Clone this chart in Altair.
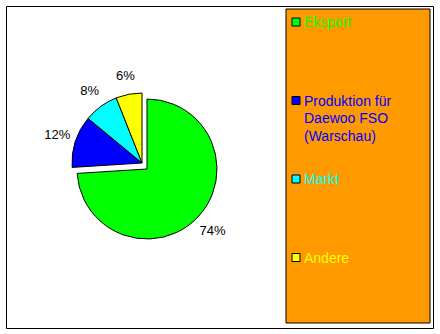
import math
import altair as alt
import pandas as pd

categories = ["Eksport", "Produktion für Daewoo FSO (Warschau)", "Markt", "Andere"]
legend_labels = ["Eksport", "Produktion für\nDaewoo FSO\n(Warschau)", "Markt", "Andere"]
values = [74, 12, 8, 6]
pct_labels = ["74%", "12%", "8%", "6%"]
colors = ["#00FF00", "#0000FF", "#00FFFF", "#FFFF00"]

FONT = "Arial, Liberation Sans, sans-serif"

df = pd.DataFrame({
    "category": categories,
    "label": legend_labels,
    "value": values,
    "pct": pct_labels,
    "order": list(range(len(categories))),
})

theta_scale = alt.Scale(domain=[0, 100], range=[0, 2 * math.pi])
color_enc = alt.Color("category:N", scale=alt.Scale(domain=categories, range=colors), legend=None)

base = alt.Chart(df).transform_window(
    end="sum(value)", sort=[alt.SortField("order")], frame=[None, 0]
).transform_calculate(
    start="datum.end - datum.value", mid="datum.end - datum.value / 2"
)

box = alt.Chart(pd.DataFrame({"k": [0]})).mark_rect(
    fill="#FF9900", stroke="black", strokeWidth=1
).encode(x=alt.value(280), x2=alt.value(424), y=alt.value(3), y2=alt.value(317))

pie_main = base.transform_filter("datum.order == 0").mark_arc(
    radius=70, stroke="black", strokeWidth=1
).encode(
    theta=alt.Theta("start:Q", scale=theta_scale), theta2="end:Q",
    color=color_enc, x=alt.value(141), y=alt.value(163)
)

pie_rest = base.transform_filter("datum.order > 0").mark_arc(
    radius=70, stroke="black", strokeWidth=1
).encode(
    theta=alt.Theta("start:Q", scale=theta_scale), theta2="end:Q",
    color=color_enc, x=alt.value(136), y=alt.value(157)
)

lab_main = base.transform_filter("datum.order == 0").mark_text(
    radius=90, fontSize=13, font=FONT, color="black", baseline="middle"
).encode(theta=alt.Theta("mid:Q", scale=theta_scale), text="pct:N",
         x=alt.value(141), y=alt.value(163))

lab_rest = base.transform_filter("datum.order > 0").mark_text(
    radius=89, fontSize=13, font=FONT, color="black", baseline="middle"
).encode(theta=alt.Theta("mid:Q", scale=theta_scale), text="pct:N",
         x=alt.value(136), y=alt.value(157))

legend_y = alt.Y("category:N", scale=alt.Scale(type="point", domain=categories,
                                                range=[16, 251.5], padding=0), axis=None)

leg_sq = alt.Chart(df).mark_square(size=64, stroke="black", strokeWidth=1, opacity=1).encode(
    x=alt.value(290), y=legend_y, color=color_enc
)

leg_txt = alt.Chart(df).mark_text(
    align="left", baseline="alphabetic", dy=5, fontSize=14, font=FONT,
    lineBreak="\n", lineHeight=17.5
).encode(x=alt.value(298), y=legend_y, text="label:N", color=color_enc)

chart = alt.layer(box, pie_main, pie_rest, lab_main, lab_rest, leg_sq, leg_txt).properties(
    width=427, height=322,
    padding={"left": 6, "top": 6, "right": 7, "bottom": 6},
    autosize="none", background="white"
).configure_view(stroke="black", strokeWidth=1)

chart.save("out.html", embed_options={"renderer": "svg", "actions": False})
